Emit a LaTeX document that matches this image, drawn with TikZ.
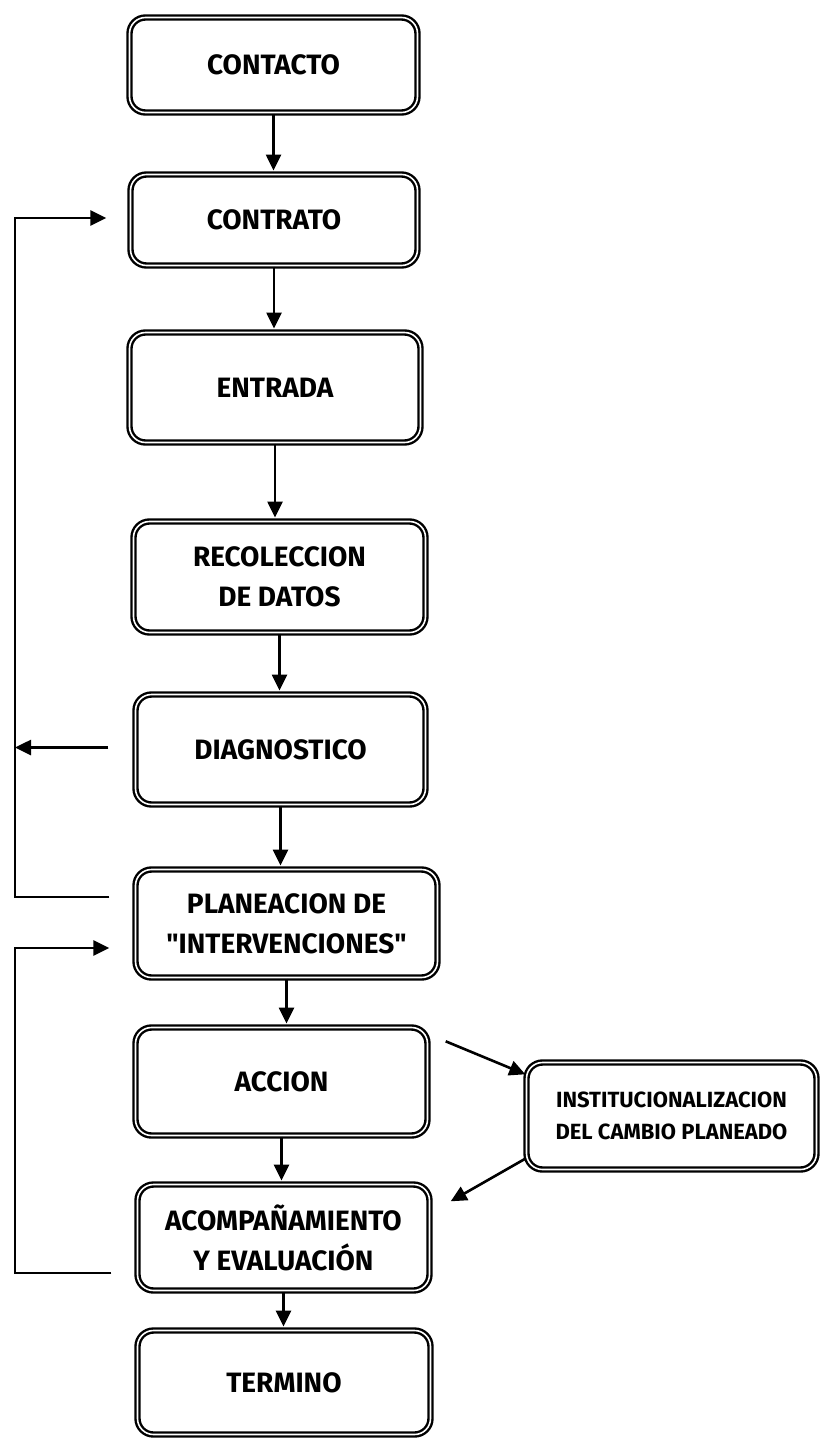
\documentclass[tikz,border=0pt]{standalone}
\usepackage{fontspec}
\setmainfont{Fira Sans}
\newfontfamily\quotefont{Fira Sans}
\usetikzlibrary{arrows.meta}
\tikzset{
    box/.style={draw, double, double distance=0.8pt, line width=1.2pt, rounded corners=8pt,
        align=center, inner sep=2pt, font=\fontsize{14}{20}\selectfont\bfseries},
}
\begin{document}
\begin{tikzpicture}[>={Triangle[length=8pt,width=7.5pt]}, x=0.5pt, y=-0.5pt, line width=1.3pt]
        \useasboundingbox (0,0) rectangle (820,1440);
        \foreach \name/\cx/\cy/\w/\h/\txt in {contacto/273.5/65/288/95/CONTACTO, contrato/274/220/287/91/CONTRATO, entrada/275/387.5/291/110/ENTRADA, recoleccion/279.5/577/292/111/{RECOLECCION\\DE DATOS}, diagnostico/280.5/749.5/290/110/DIAGNOSTICO, planeacion/286.5/923.5/302/108/{PLANEACION DE\\{\quotefont"}INTERVENCIONES{\quotefont"}}, accion/281.5/1081.5/292/108/ACCION, acomp/283.5/1237.5/292/106/{ACOMPAÑAMIENTO\\Y EVALUACIÓN}, termino/284/1382.5/293/104/TERMINO} {
            \node[box, minimum width=\w*0.5pt, minimum height=\h*0.5pt] (\name) at (\cx,\cy) {\txt};
        }
        \node[box, font=\fontsize{11}{16}\selectfont\bfseries, minimum width=145pt, minimum height=53.5pt] (inst) at (671.5,1116) {INSTITUCIONALIZACION\\DEL CAMBIO PLANEADO};

        \foreach \a/\b in {contacto/contrato, contrato/entrada, entrada/recoleccion, recoleccion/diagnostico, diagnostico/planeacion, planeacion/accion, accion/acomp, acomp/termino} {
            \draw[->, shorten >=1.4pt] (\a.south) -- (\a.south |- \b.north);
        }

        \coordinate (rail) at (15,0);
        \coordinate (fromplan) at ([xshift=-12.5pt,yshift=13.25pt]planeacion.west);
        \coordinate (tocontrato) at ([xshift=-11.5pt,yshift=1pt]contrato.west);
        \draw[->] (fromplan) -- (fromplan -| rail) |- (tocontrato);
        \coordinate (fromdiag) at ([xshift=-13pt,yshift=1pt]diagnostico.west);
        \draw[->] (fromdiag) -- (fromdiag -| rail);
        \coordinate (fromacomp) at ([xshift=-12.5pt,yshift=-17.75pt]acomp.west);
        \coordinate (toplan) at ([xshift=-12.5pt,yshift=-12.25pt]planeacion.west);
        \draw[->] (fromacomp) -- (fromacomp -| rail) |- (toplan);

        \coordinate (fromaccion) at ([xshift=8.5pt,yshift=-7.5pt]accion.north east);
        \draw[->] (fromaccion) -- ([yshift=-6.5pt]inst.north west);
        \draw[->] ([yshift=6pt]inst.south west) -- ([xshift=10pt,yshift=-9pt]acomp.north east);
    \end{tikzpicture}
\end{document}
